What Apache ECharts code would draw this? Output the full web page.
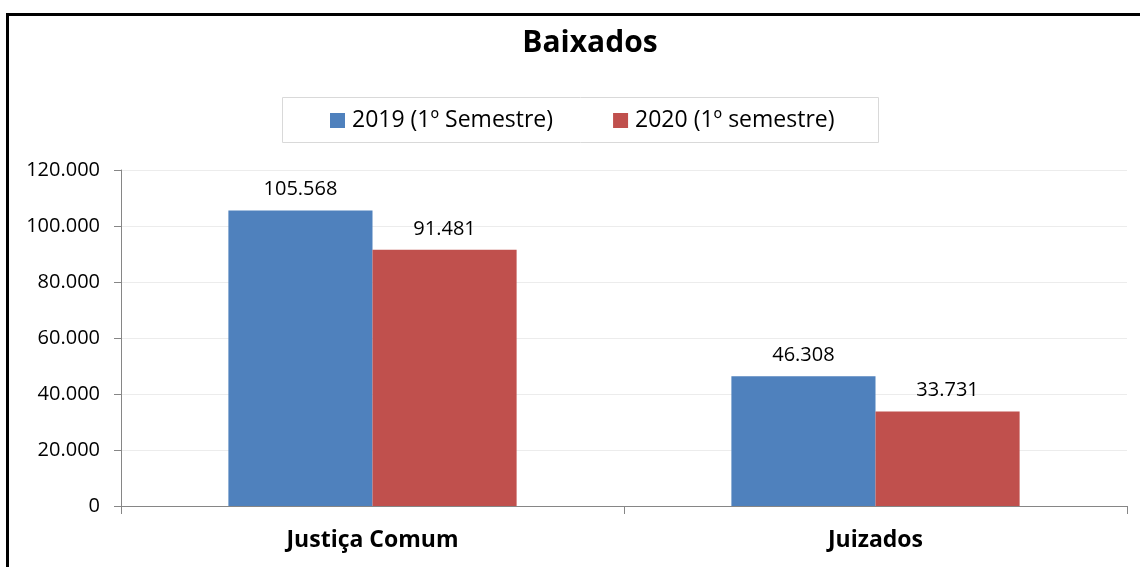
<!DOCTYPE html>
<html>
<head>
<meta charset="utf-8">
<script src="https://cdn.jsdelivr.net/npm/echarts@6/dist/echarts.min.js"></script>
<style>
  html, body { margin: 0; padding: 0; background: #fff; }
  #chart { width: 1140px; height: 567px; }
</style>
</head>
<body>
<div id="chart"></div>
<script>
const categories = ['Justiça Comum', 'Juizados'];
const seriesNames = ['2019 (1º Semestre)', '2020 (1º semestre)'];
const values2019 = [105568, 46308];
const values2020 = [91481, 33731];
const yTicks = { min: 0, max: 120000, interval: 20000 };

const FONT = '"Open Sans", sans-serif';

function fmt(v) {
  return String(v).replace(/\B(?=(\d{3})+(?!\d))/g, '.');
}

const chart = echarts.init(document.getElementById('chart'), null, { renderer: 'canvas' });

const options = {
  animation: false,
  color: ['#4F81BD', '#C0504D'],
  title: {
    text: 'Baixados',
    left: 585,
    textAlign: 'center',
    top: 23,
    textStyle: { fontFamily: FONT, fontWeight: 'bold', fontSize: 30, color: '#000' }
  },
  legend: {
    data: seriesNames,
    left: 325,
    top: 104,
    icon: 'rect',
    itemWidth: 15,
    itemHeight: 15,
    itemGap: 60,
    textStyle: { fontFamily: FONT, fontSize: 23, color: '#000', padding: [0, 0, 0, 2] }
  },
  graphic: [
    {
      type: 'rect',
      shape: { x: 282.5, y: 97.5, width: 596, height: 45 },
      style: { fill: 'none', stroke: '#d9d9d9', lineWidth: 1 },
      silent: true
    },
    {
      type: 'rect',
      shape: { x: 7.5, y: 14.5, width: 1200, height: 600 },
      style: { fill: 'none', stroke: '#000', lineWidth: 3 },
      silent: true
    }
  ],
  grid: { left: 121, right: 13, top: 170, bottom: 61, containLabel: false },
  xAxis: {
    type: 'category',
    data: categories,
    boundaryGap: true,
    axisLine: { lineStyle: { color: '#868686', width: 1 } },
    axisTick: { show: true, length: 8, lineStyle: { color: '#868686' } },
    axisLabel: { fontFamily: FONT, fontWeight: 'bold', fontSize: 23, color: '#000', margin: 23 }
  },
  yAxis: {
    type: 'value',
    min: yTicks.min,
    max: yTicks.max,
    interval: yTicks.interval,
    axisLine: { show: true, lineStyle: { color: '#868686', width: 1 } },
    axisTick: { show: true, length: 7, lineStyle: { color: '#868686' } },
    splitLine: { lineStyle: { color: '#ececec' } },
    axisLabel: { fontFamily: FONT, fontSize: 20, color: '#000', margin: 21, formatter: fmt }
  },
  series: [
    {
      name: seriesNames[0],
      type: 'bar',
      data: values2019,
      barGap: '0%',
      barCategoryGap: '42.7%',
      label: {
        show: true, position: 'top', distance: 11,
        fontFamily: FONT, fontSize: 20, color: '#000',
        formatter: p => fmt(p.value)
      }
    },
    {
      name: seriesNames[1],
      type: 'bar',
      data: values2020,
      barGap: '0%',
      barCategoryGap: '42.7%',
      label: {
        show: true, position: 'top', distance: 11,
        fontFamily: FONT, fontSize: 20, color: '#000',
        formatter: p => fmt(p.value)
      }
    }
  ]
};

chart.setOption(options);
</script>
</body>
</html>
